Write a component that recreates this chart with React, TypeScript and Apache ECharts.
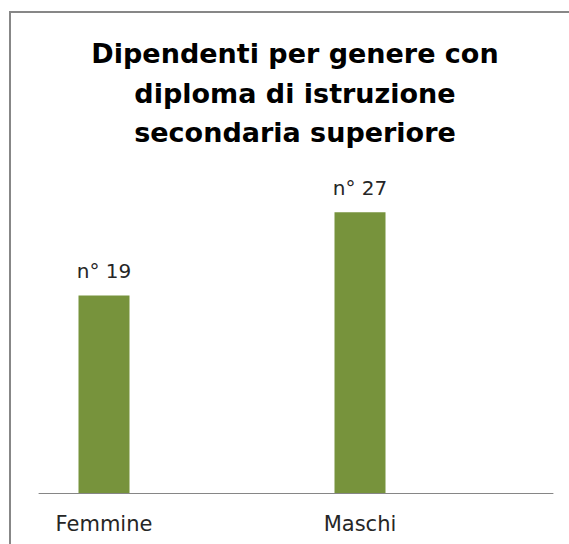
import React, { useEffect, useRef } from "react";
import * as echarts from "echarts";

const titleLines = ["Dipendenti per genere con", "diploma di istruzione", "secondaria superiore"];
const categories = ["Femmine", "Maschi"];
const values = [19, 27];
const yMax = 30;

export default function App() {
  const ref = useRef<HTMLDivElement>(null);
  useEffect(() => {
    if (!ref.current) return;
    const chart = echarts.init(ref.current, null, { renderer: "svg" });
    const font = "'DejaVu Sans', sans-serif";
    chart.setOption({
      animation: false,
      backgroundColor: "#ffffff",
      title: {
        text: titleLines.join("\n"),
        left: 290,
        textAlign: "center",
        top: 29,
        textStyle: {
          fontFamily: font,
          fontSize: 27,
          fontWeight: "bold",
          color: "#000000",
          lineHeight: 39.5,
        },
      },
      graphic: [
        {
          type: "rect",
          shape: { x: 10, y: 12, width: 700, height: 700 },
          style: { fill: "none", stroke: "#878787", lineWidth: 2 },
          silent: true,
        },
      ],
      grid: [
        { left: -24, width: 512, top: 181, bottom: 51, outerBoundsMode: "none", containLabel: false },
        { left: 39, width: 514, top: 181, bottom: 51, outerBoundsMode: "none", containLabel: false },
      ],
      xAxis: [
        {
          type: "category",
          gridIndex: 0,
          data: categories,
          axisLine: { show: false },
          axisTick: { show: false },
          axisLabel: {
            fontFamily: font,
            fontSize: 21,
            color: "#262626",
            margin: 20,
          },
        },
        {
          type: "category",
          gridIndex: 1,
          data: [""],
          axisLine: { show: true, lineStyle: { color: "#868686", width: 1 } },
          axisTick: { show: false },
          axisLabel: { show: false },
        },
      ],
      yAxis: [
        { type: "value", gridIndex: 0, min: 0, max: yMax, show: false },
        { type: "value", gridIndex: 1, min: 0, max: yMax, show: false },
      ],
      series: [
        {
          type: "bar",
          xAxisIndex: 0,
          yAxisIndex: 0,
          data: values,
          barWidth: 51,
          itemStyle: { color: "#77933C" },
          label: {
            show: true,
            position: "top",
            distance: 14,
            formatter: "n° {c}",
            fontFamily: font,
            fontSize: 20,
            color: "#262626",
          },
        },
      ],
    });
    return () => chart.dispose();
  }, []);
  return (
    <div
      ref={ref}
      style={{ position: "absolute", left: 0, top: 0, width: 569, height: 544 }}
    />
  );
}
